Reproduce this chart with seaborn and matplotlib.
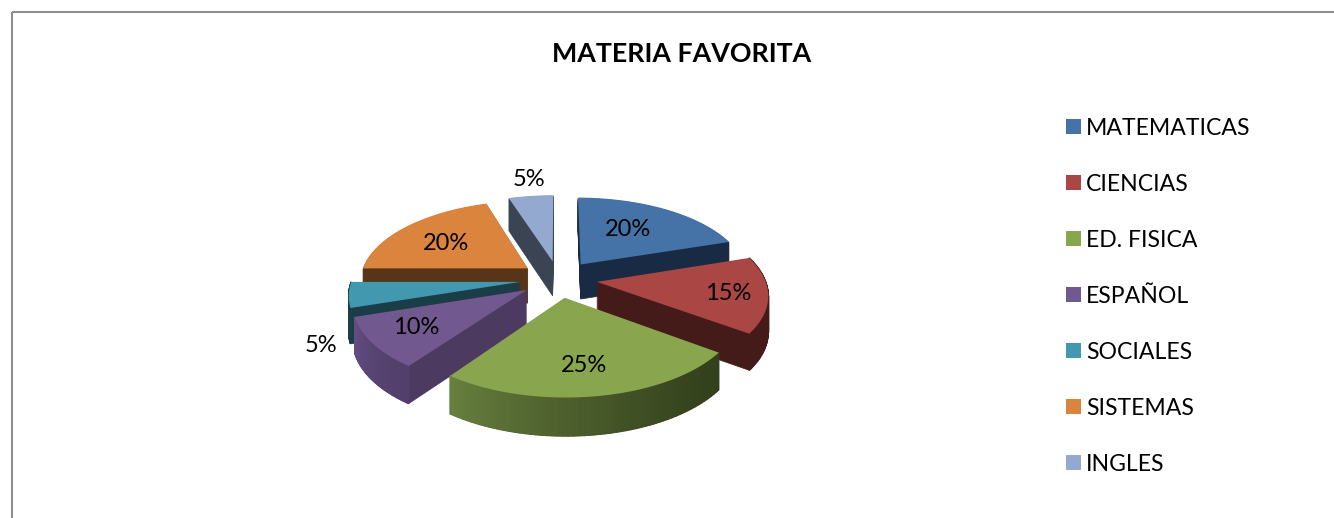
import numpy as np
import matplotlib
matplotlib.use("Agg")
import matplotlib.pyplot as plt
from matplotlib.patches import Patch, Polygon, Rectangle
from matplotlib.colors import to_rgb
import seaborn as sns

# Survey results: favourite school subject
subjects = ["MATEMATICAS", "CIENCIAS", "ED. FISICA", "ESPAÑOL", "SOCIALES", "SISTEMAS", "INGLES"]
shares = [20, 15, 25, 10, 5, 20, 5]
title = "MATERIA FAVORITA"

top_hex = ["#4572A7", "#AA4643", "#89A54E", "#71588F", "#4198AF", "#DB843D", "#93A9CF"]
side_hex = ["#192B44", "#451B1A", "#37421F", "#4D3A60", "#1A3D47", "#583518", "#3B4453"]
# Shading of the outer rim, from the clockwise start of a slice to its end
rim_hex = {
    1: ("#451B1A", "#451B1A"),
    2: ("#33401C", "#677F3F"),
    3: ("#523F6B", "#634D82"),
    4: ("#1A3D47", "#1A3D47"),
}
# Back-to-front drawing order of the slices
paint_order = [6, 0, 5, 4, 1, 3, 2]
label_xy = [(628, 229), (728, 293), (584, 365), (416, 328), (321, 345), (446, 243), (529, 179)]

FONT = "Lato"
CX, CY = 558.5, 279.0
RX, RY = 168.0, 80.0
PERSP = 0.14
DEPTH = 35.0
EXPLODE = 0.23


def perspective(y):
    return 1.0 / (1.0 + PERSP * np.asarray(y))


def project(x, y, z=0.0):
    """Map pie-plane coordinates to canvas pixels with a simple perspective."""
    s = perspective(y)
    return CX + RX * np.asarray(x) * s, CY - RY * np.asarray(y) * s + z * np.sqrt(s)


sns.set_theme(style="white")
plt.rcParams["font.family"] = [FONT, "DejaVu Sans"]

fig = plt.figure(figsize=(13.34, 5.18), dpi=100, facecolor="white")
ax = fig.add_axes([0, 0, 1, 1])

palette = sns.color_palette(top_hex)
wedges, _ = ax.pie(shares, explode=[EXPLODE] * len(shares), startangle=90, counterclock=False,
                   colors=palette, radius=1.0)
ax.set_aspect("auto")
ax.set_xlim(0, 1334)
ax.set_ylim(518, 0)
ax.set_axis_off()

# Chart frame, running past the right and lower edges of the canvas
ax.add_patch(Rectangle((11.5, 11.5), 1400, 600, fill=False, edgecolor="#8E8E8E", linewidth=1.5, zorder=0))

z_level = 1
for i in paint_order:
    w = wedges[i]
    w.set_visible(False)
    cx0, cy0 = w.center
    # pie() stores angles counter-clockwise; walk them clockwise
    theta = np.radians(np.linspace(w.theta2, w.theta1, 60))
    ax_x = cx0 + w.r * np.cos(theta)
    ax_y = cy0 + w.r * np.sin(theta)
    px = np.r_[cx0, ax_x]
    py = np.r_[cy0, ax_y]

    # Extruded body: stacked copies of the slice outline
    for z in np.arange(DEPTH, 0, -1.0):
        sx, sy = project(px, py, z)
        ax.add_patch(Polygon(np.c_[sx, sy], closed=True, facecolor=side_hex[i], edgecolor=side_hex[i],
                             linewidth=0.5, zorder=z_level))

    # Outer rim with its shading
    if i in rim_hex:
        c0, c1 = np.array(to_rgb(rim_hex[i][0])), np.array(to_rgb(rim_hex[i][1]))
        tx, ty = project(ax_x, ax_y, 0.0)
        bx, by = project(ax_x, ax_y, DEPTH)
        n = len(ax_x) - 1
        for k in range(n):
            col = c0 + (c1 - c0) * (k / (n - 1)) ** 1.4
            ax.add_patch(Polygon([(tx[k], ty[k]), (tx[k + 1], ty[k + 1]), (bx[k + 1], by[k + 1]), (bx[k], by[k])],
                                 closed=True, facecolor=col, edgecolor=col, linewidth=1.0, zorder=z_level + 0.1))

    # Top face
    sx, sy = project(px, py, 0.0)
    ax.add_patch(Polygon(np.c_[sx, sy], closed=True, facecolor=palette[i], edgecolor="none", zorder=z_level + 0.2))
    z_level += 1

for value, (lx, ly) in zip(shares, label_xy):
    ax.text(lx, ly, f"{value}%", ha="center", va="center", fontsize=17, color="black", zorder=50)

ax.text(682, 54, title, ha="center", va="center", fontsize=19.3, fontweight="bold", color="black")

handles = [Patch(facecolor=c, edgecolor="none", label=s) for c, s in zip(palette, subjects)]
ax.legend(handles=handles, loc="upper left", bbox_to_anchor=(1066 / 1334, 1 - 118 / 518), frameon=False,
          fontsize=16.6, handlelength=0.63, handleheight=0.63, handletextpad=0.24, labelspacing=1.515,
          borderpad=0, borderaxespad=0, labelcolor="black")

fig.savefig("out.png", dpi=100, facecolor="white")
